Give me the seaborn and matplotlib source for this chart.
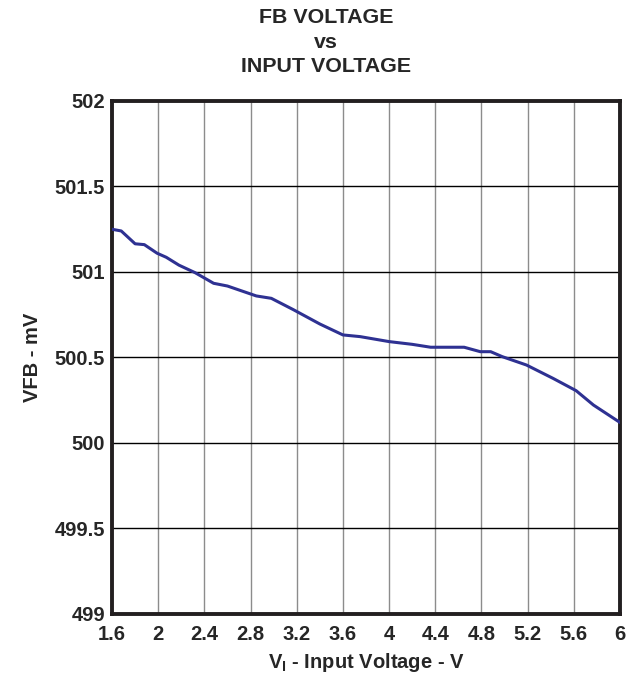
import seaborn as sns
import matplotlib.pyplot as plt
import pandas as pd
import numpy as np

# Values
vin = [1.6, 1.68, 1.8, 1.88, 1.99, 2.07, 2.18, 2.32, 2.48, 2.6, 2.85, 2.98,
       3.17, 3.4, 3.6, 3.75, 4.0, 4.2, 4.36, 4.65, 4.79, 4.88, 4.98, 5.19,
       5.42, 5.62, 5.77, 6.0]
vfb = [501.25, 501.24, 501.165, 501.16, 501.11, 501.086, 501.04, 500.996,
       500.934, 500.918, 500.86, 500.846, 500.78, 500.696, 500.632, 500.622,
       500.593, 500.577, 500.56, 500.56, 500.534, 500.534, 500.505, 500.456,
       500.378, 500.306, 500.222, 500.12]
xticks = [1.6, 2, 2.4, 2.8, 3.2, 3.6, 4, 4.4, 4.8, 5.2, 5.6, 6]
xtick_labels = ["1.6", "2", "2.4", "2.8", "3.2", "3.6", "4", "4.4", "4.8", "5.2", "5.6", "6"]
yticks = [499, 499.5, 500, 500.5, 501, 501.5, 502]
ytick_labels = ["499", "499.5", "500", "500.5", "501", "501.5", "502"]

df = pd.DataFrame({"vin": vin, "vfb": vfb})

sns.set_style("white")
plt.rcParams['font.family'] = ['Liberation Sans', 'DejaVu Sans']
plt.rcParams['font.weight'] = 'bold'
plt.rcParams['mathtext.fontset'] = 'custom'
plt.rcParams['mathtext.rm'] = 'Liberation Sans:bold'

fig, ax = plt.subplots(figsize=(6.37, 6.77), dpi=100)
fig.subplots_adjust(left=112/637, right=620/637, top=1-101/677, bottom=1-614/677)

# Grid
for x in xticks[1:-1]:
    ax.axvline(x, color="#8c8c8c", lw=1.0, zorder=1)
for y in yticks[1:-1]:
    ax.axhline(y, color="black", lw=1.0, zorder=1)

sns.lineplot(data=df, x="vin", y="vfb", ax=ax, color="#2e3192", lw=2.2, zorder=3)

ax.set_xlim(1.6, 6)
ax.set_ylim(499, 502)
ax.set_xticks(xticks)
ax.set_xticklabels(xtick_labels, fontsize=14.5, fontweight="bold")
ax.set_yticks(yticks)
ax.set_yticklabels(ytick_labels, fontsize=14.5, fontweight="bold")
ax.tick_params(axis="x", length=0, pad=8)
ax.tick_params(axis="y", length=0, pad=5)

for s in ax.spines.values():
    s.set_visible(True)
    s.set_linewidth(2.8)
    s.set_color("#231f20")

ax.set_xlabel(r"V$_\mathrm{I}$ - Input Voltage - V", fontsize=14.5, fontweight="bold", labelpad=5)
ax.set_ylabel("VFB - mV", fontsize=14.5, fontweight="bold", labelpad=9)
fig.text(326/637, 1-8/677, "FB VOLTAGE\nvs\nINPUT VOLTAGE", fontsize=15.4,
         fontweight="bold", ha="center", va="top", linespacing=1.38)

fig.savefig("out.png", dpi=100)
